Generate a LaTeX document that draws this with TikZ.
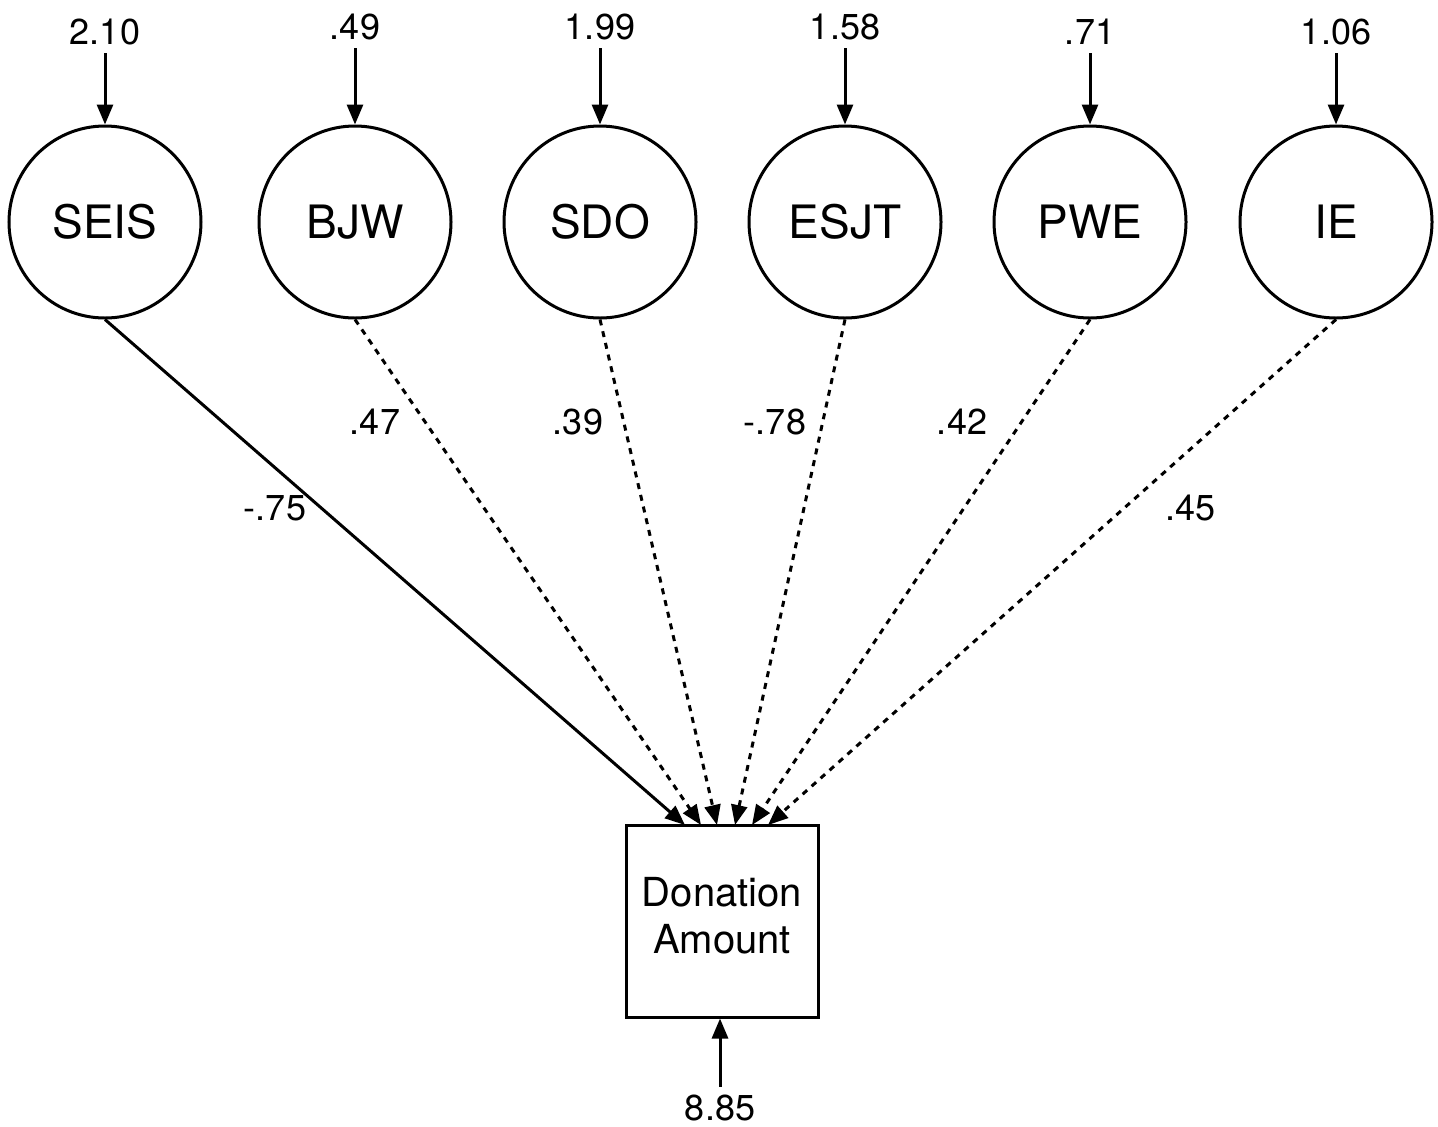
\documentclass[tikz,border=0pt]{standalone}
\usepackage{fontspec}
\setmainfont{TeX Gyre Heros}
\usetikzlibrary{arrows.meta}
\begin{document}
\begin{tikzpicture}[x=0.5pt,y=-0.5pt,
  latent/.style={draw,circle,line width=1.5pt,minimum size=96pt,inner sep=0pt,font=\fontsize{23}{26}\selectfont},
  observed/.style={draw,rectangle,line width=1.5pt,minimum width=96pt,minimum height=96pt,inner sep=0pt,align=center,font=\fontsize{20}{23.5}\selectfont},
  val/.style={inner sep=4pt,font=\fontsize{18}{21}\selectfont},
  coef/.style={inner sep=0pt,font=\fontsize{18}{21}\selectfont},
  arr/.style={line width=1.5pt,-{Triangle[length=10pt,width=8pt]}},
  dsh/.style={arr,dash pattern=on 3pt off 3pt}]
\useasboundingbox (0,0) rectangle (1438,1126);
% latent variables
\node[latent] (c1) at (105,222) {SEIS};
\node[latent] (c2) at (355,222) {BJW};
\node[latent] (c3) at (600,222) {SDO};
\node[latent] (c4) at (845,222) {ESJT};
\node[latent] (c5) at (1090,222) {PWE};
\node[latent] (c6) at (1336,222) {IE};
% error values
\node[val] (e1) at (105,32) {2.10};
\node[val] (e2) at (355,27) {.49};
\node[val] (e3) at (600,27) {1.99};
\node[val] (e4) at (845,27) {1.58};
\node[val] (e5) at (1090,32) {.71};
\node[val] (e6) at (1336,32) {1.06};
\foreach \i in {1,...,6} {\draw[arr] (e\i.south) -- (c\i.north);}
% outcome
\node[observed] (d) at (722,921) {\raisebox{3pt}{\begin{tabular}{@{}c@{}}Donation\\Amount\end{tabular}}};
\coordinate (t1) at (685,825);
\coordinate (t2) at (701,825);
\coordinate (t3) at (717,825);
\coordinate (t4) at (735,825);
\coordinate (t5) at (752,825);
\coordinate (t6) at (768,825);
\draw[arr] (c1.south) -- (t1);
\foreach \i in {2,...,6} {\draw[dsh] (c\i.south) -- (t\i);}
% coefficients
\node[coef] (k1) at (275,508) {-.75};
\node[coef] (k2) at (375,422) {.47};
\node[coef] (k3) at (578,422) {.39};
\node[coef] (k4) at (775,422) {-.78};
\node[coef] (k5) at (962,422) {.42};
\node[coef] (k6) at (1190,508) {.45};
% residual
\node[val] (r) at (720,1108) {8.85};
\draw[arr] (r.north) -- (r.north |- d.south);
\end{tikzpicture}
\end{document}
